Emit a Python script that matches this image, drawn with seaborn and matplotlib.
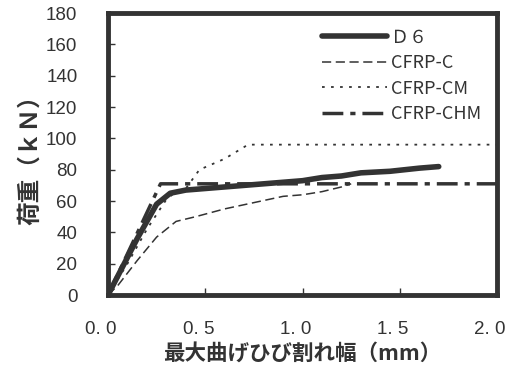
import matplotlib
matplotlib.use("Agg")

import matplotlib.pyplot as plt
import matplotlib.transforms as mtransforms
import seaborn as sns

sns.set_theme(style="white")
plt.rcParams['font.family'] = ['Noto Sans CJK JP', 'DejaVu Sans']

# crack width (mm) vs load (kN)
d6_x = [0, 0.05, 0.15, 0.25, 0.32, 0.4, 0.6, 0.8, 1.0, 1.1, 1.2, 1.3, 1.45, 1.6, 1.7]
d6_y = [0, 12, 36, 58, 65, 67, 69, 71, 73, 75, 76, 78, 79, 81, 82]

c_x = [0, 0.05, 0.15, 0.25, 0.35, 0.45, 0.6, 0.75, 0.9, 1.0, 1.1, 1.2, 1.25]
c_y = [0, 6, 22, 37, 47, 50, 55, 59, 63, 64, 66, 69, 71]

cm_x = [0, 0.1, 0.2, 0.3, 0.35, 0.4, 0.47, 0.6, 0.72, 1.0, 1.5, 2.0]
cm_y = [0, 20, 42, 61, 66, 68, 80, 87, 96, 96, 96, 96]

chm_x = [0, 0.27, 1.0, 2.0]
chm_y = [0, 71, 71, 71]

labels = ["Ｄ６", "CFRP-C", "CFRP-CM", "CFRP-CHM"]
xticks = [0, 0.5, 1.0, 1.5, 2.0]
xtick_labels = ["0. 0", "0. 5", "1. 0", "1. 5", "2. 0"]

ink = "#333333"
num_font = ["Liberation Sans", "DejaVu Sans"]

fig = plt.figure(figsize=(5.06, 3.73), dpi=100)
ax = fig.add_axes([0.2134, 0.209, 0.769, 0.756])

sns.lineplot(x=d6_x, y=d6_y, ax=ax, color=ink, lw=4, label=labels[0],
             solid_capstyle="round")
sns.lineplot(x=c_x, y=c_y, ax=ax, color=ink, lw=1.1, label=labels[1],
             dashes=(6, 3))
sns.lineplot(x=cm_x, y=cm_y, ax=ax, color=ink, lw=1.3, label=labels[2],
             dashes=(1.5, 3.5))
sns.lineplot(x=chm_x, y=chm_y, ax=ax, color=ink, lw=2.5, label=labels[3],
             dashes=(6, 2, 1.5, 2))

ax.set_xlim(0, 2.0)
ax.set_ylim(0, 180)
ax.set_xticks(xticks)
ax.set_xticklabels(xtick_labels)
ax.set_yticks(range(0, 181, 20))

for s in ax.spines.values():
    s.set_linewidth(3.5)
    s.set_color(ink)

ax.tick_params(axis="both", direction="in", length=5, width=1, color=ink,
               labelsize=13.5, labelcolor=ink, left=True, bottom=True)
ax.tick_params(axis="x", pad=19)
ax.tick_params(axis="y", pad=22)

shift = mtransforms.ScaledTranslation(-7 / 100, 0, fig.dpi_scale_trans)
for t in ax.get_xticklabels():
    t.set_fontfamily(num_font)
    t.set_transform(t.get_transform() + shift)
for t in ax.get_yticklabels():
    t.set_fontfamily(num_font)

ax.set_xlabel("最大曲げひび割れ幅（mm）", fontsize=15.5, fontweight="bold",
              color=ink, labelpad=3)
ax.set_ylabel("荷重（ｋＮ）", fontsize=17, fontweight="bold", color=ink,
              labelpad=3)

leg = ax.legend(loc="upper right", frameon=False, fontsize=13,
                handlelength=3.6, handletextpad=0.25, labelspacing=0.42,
                borderaxespad=0.65, borderpad=0.2, labelcolor=ink)

fig.savefig("out.png", dpi=100)
